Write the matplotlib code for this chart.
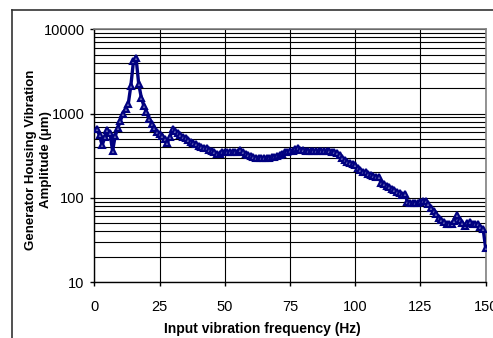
import matplotlib
matplotlib.use("Agg")
import matplotlib.pyplot as plt
from matplotlib.lines import Line2D
from matplotlib.ticker import LogLocator, FixedLocator, NullFormatter

plt.rcParams['font.family'] = ['Liberation Sans', 'DejaVu Sans']

freq = [1, 2, 3, 4, 5, 6, 7, 8, 9, 10, 11, 12, 13, 14, 15, 16, 17, 18, 19, 20,
        21, 22, 23, 24, 25, 26, 27, 28, 29, 30, 31, 32, 33, 34, 35, 36, 37, 38, 39, 40,
        41, 42, 43, 44, 45, 46, 47, 48, 49, 50, 51, 52, 53, 54, 55, 56, 57, 58, 59, 60,
        61, 62, 63, 64, 65, 66, 67, 68, 69, 70, 71, 72, 73, 74, 75, 76, 77, 78, 79, 80,
        81, 82, 83, 84, 85, 86, 87, 88, 89, 90, 91, 92, 93, 94, 95, 96, 97, 98, 99, 100,
        101, 102, 103, 104, 105, 106, 107, 108, 109, 110, 111, 112, 113, 114, 115, 116, 117, 118, 119, 120,
        121, 122, 123, 124, 125, 126, 127, 128, 129, 130, 131, 132, 133, 134, 135, 136, 137, 138, 139, 140,
        141, 142, 143, 144, 145, 146, 147, 148, 149, 150]

amplitude = [650, 550, 420, 520, 640, 590, 360, 540, 670, 820, 1000, 1130, 1290, 2130, 4150, 4600, 2270, 1550, 1230, 1030,
             860, 750, 670, 610, 570, 545, 500, 450, 530, 650, 620, 580, 550, 530, 510, 490, 465, 445, 430, 415,
             405, 395, 385, 370, 360, 352, 335, 330, 348, 352, 350, 352, 348, 345, 350, 372, 350, 330, 318, 310,
             303, 298, 296, 295, 295, 296, 298, 302, 308, 315, 325, 335, 345, 352, 358, 362, 375, 388, 370, 365,
             362, 360, 360, 358, 358, 358, 357, 356, 355, 355, 352, 348, 340, 318, 295, 280, 265, 258, 252, 245,
             225, 215, 205, 200, 192, 185, 180, 178, 175, 150, 145, 138, 133, 128, 124, 118, 113, 108, 112, 90,
             86, 86, 86, 87, 88, 91, 92, 85, 76, 70, 64, 58, 54, 51, 49, 49, 49, 53, 62, 54,
             50, 46, 50, 51, 49, 49, 49, 45, 43, 25]

x_ticks = [0, 25, 50, 75, 100, 125, 150]
y_ticks = [10, 100, 1000, 10000]
y_ticklabels = ["10", "100", "1000", "10000"]

W, H = 493, 338
fig = plt.figure(figsize=(W / 100, H / 100), dpi=100)
fig.patch.set_facecolor('white')

# outer chart-area border
fig.add_artist(Line2D([12 / W, 1.0], [1 - 10 / H, 1 - 10 / H], transform=fig.transFigure, color='#333333', lw=1.2))
fig.add_artist(Line2D([12 / W, 12 / W], [0, 1 - 10 / H], transform=fig.transFigure, color='#333333', lw=1.2))

left, right = 94.3 / W, 485.7 / W
bottom, top = 1 - 282 / H, 1 - 29.3 / H
ax = fig.add_axes([left, bottom, right - left, top - bottom])

ax.plot(freq, amplitude, color='#000080', lw=2.4, marker='^', markersize=5,
        markerfacecolor='#6666b3', markeredgecolor='#000080', markeredgewidth=1.5, zorder=3)

ax.set_yscale('log')
ax.set_xlim(0, 150)
ax.set_ylim(10, 10000)
ax.xaxis.set_major_locator(FixedLocator(x_ticks))
ax.set_xticklabels([str(t) for t in x_ticks])
ax.yaxis.set_major_locator(FixedLocator(y_ticks))
ax.set_yticklabels(y_ticklabels)
ax.yaxis.set_minor_locator(LogLocator(base=10, subs=range(2, 10)))
ax.yaxis.set_minor_formatter(NullFormatter())

ax.grid(True, which='major', axis='both', color='black', lw=0.8)
ax.grid(True, which='minor', axis='y', color='black', lw=0.8)
ax.set_axisbelow(True)

ax.tick_params(axis='both', which='major', direction='out', length=3, width=1, color='black', labelsize=10.5)
ax.tick_params(axis='x', which='major', pad=10)
ax.tick_params(axis='y', which='major', pad=4)
ax.tick_params(axis='y', which='minor', length=0)

for s in ['top', 'right']:
    ax.spines[s].set_color('#808080')
    ax.spines[s].set_linewidth(1.2)
for s in ['left', 'bottom']:
    ax.spines[s].set_color('black')
    ax.spines[s].set_linewidth(1.0)

fig.text((163 + 361) / 2 / W, 1 - 329 / H, 'Input vibration frequency (Hz)', ha='center', va='center',
         fontsize=10, fontweight='bold')
fig.text(38.5 / W, 1 - 160 / H, 'Generator Housing Vibration\nAmplitude (\u03bcm)', ha='center', va='center',
         rotation=90, fontsize=9.5, fontweight='bold', linespacing=1.3)

fig.savefig('out.png', dpi=100)
